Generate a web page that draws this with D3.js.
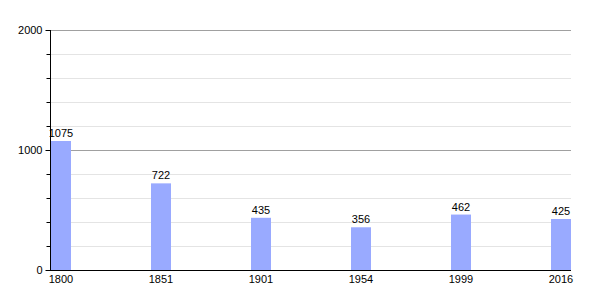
<!DOCTYPE html>
<html>
<head>
<meta charset="utf-8">
<script src="https://cdn.jsdelivr.net/npm/d3@7"></script>
<style>
  body { margin: 0; background: #fff; }
  svg { display: block; font-family: "Liberation Sans", Arial, sans-serif; }
</style>
</head>
<body>
<svg id="chart" width="600" height="300"></svg>
<script>
// population by census year
const years = ["1800", "1851", "1901", "1954", "1999", "2016"];
const population = [1075, 722, 435, 356, 462, 425];
const yTicks = [0, 1000, 2000];
const yMinorTicks = [200, 400, 600, 800, 1200, 1400, 1600, 1800];

const margin = { top: 30, right: 29, bottom: 30, left: 50 };
const width = 600;
const height = 300;

const svg = d3.select("#chart");

// each category gets a 100px slot, bar sits at the slot's left edge
const x = d3.scaleBand()
  .domain(years)
  .range([margin.left, margin.left + 100 * years.length]);
const barWidth = 20;

const y = d3.scaleLinear()
  .domain([0, 2000])
  .range([height - margin.bottom, margin.top]);

const gridRight = width - margin.right;

// minor grid lines
svg.append("g")
  .selectAll("line")
  .data(yMinorTicks)
  .join("line")
  .attr("x1", margin.left)
  .attr("x2", gridRight)
  .attr("y1", d => y(d) + 0.5)
  .attr("y2", d => y(d) + 0.5)
  .attr("stroke", "#e4e4e4");

// major grid lines
svg.append("g")
  .selectAll("line")
  .data(yTicks.filter(d => d > 0))
  .join("line")
  .attr("x1", margin.left)
  .attr("x2", gridRight)
  .attr("y1", d => y(d) + 0.5)
  .attr("y2", d => y(d) + 0.5)
  .attr("stroke", "#a0a0a0");

// bars
svg.append("g")
  .selectAll("rect")
  .data(population)
  .join("rect")
  .attr("x", (d, i) => x(years[i]) + 1)
  .attr("y", d => y(d))
  .attr("width", barWidth)
  .attr("height", d => y(0) - y(d))
  .attr("fill", "#99aaff");

// value labels
svg.append("g")
  .selectAll("text")
  .data(population)
  .join("text")
  .attr("x", (d, i) => x(years[i]) + 1 + barWidth / 2)
  .attr("y", d => y(d) - 4)
  .attr("text-anchor", "middle")
  .attr("font-size", 11)
  .attr("fill", "#000")
  .text(d => d);

// left axis, minor ticks
svg.append("g")
  .attr("transform", `translate(${margin.left + 0.5},0)`)
  .call(d3.axisLeft(y).tickValues(yMinorTicks).tickSize(4).tickFormat(""))
  .call(g => g.select(".domain").remove());

// left axis, labelled ticks
svg.append("g")
  .attr("transform", `translate(${margin.left + 0.5},0)`)
  .call(d3.axisLeft(y).tickValues(yTicks).tickSize(5).tickPadding(3).tickFormat(d3.format("d")))
  .call(g => g.select(".domain").attr("d", `M0,${y(2000)}V${y(0)}`))
  .call(g => g.selectAll("text").attr("font-size", 11).attr("fill", "#000").attr("font-family", null));

// bottom axis line
svg.append("line")
  .attr("x1", margin.left)
  .attr("x2", gridRight)
  .attr("y1", y(0) + 0.5)
  .attr("y2", y(0) + 0.5)
  .attr("stroke", "#000");

// year labels
svg.append("g")
  .selectAll("text")
  .data(years)
  .join("text")
  .attr("x", d => x(d) + 1 + barWidth / 2)
  .attr("y", y(0) + 13)
  .attr("text-anchor", "middle")
  .attr("font-size", 11)
  .attr("fill", "#000")
  .text(d => d);
</script>
</body>
</html>
